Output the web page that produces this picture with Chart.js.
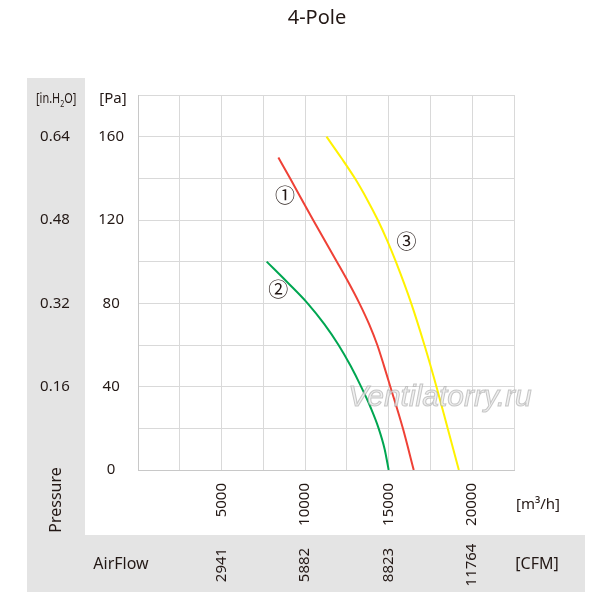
<!DOCTYPE html>
<html>
<head>
<meta charset="utf-8">
<script src="https://cdn.jsdelivr.net/npm/chart.js@4/dist/chart.umd.min.js"></script>
<style>
  body { margin: 0; background: #fff; }
  #wrap { width: 600px; height: 600px; position: relative; }
</style>
</head>
<body>
<div id="wrap"><canvas id="fanChart"></canvas></div>
<script>
// Curve data: [m3/h, Pa]
const curve1 = [[8400,150],[9100,140],[10480,120],[11900,100],[12600,90],[13250,80],[13830,70],[14320,60],[14720,50],[15100,40],[15850,20],[16500,0]];
const curve2 = [[7700,100],[8950,90],[10150,80],[11150,70],[12000,60],[12720,50],[13350,40],[13920,30],[14400,20],[14760,10],[15000,0]];
const curve3 = [[11280,160],[12150,150],[12980,140],[13700,130],[14350,120],[14920,110],[15430,100],[16350,80],[17140,60],[17860,40],[18530,20],[19200,0]];

// Tick labels
const flowTicks = [5000, 10000, 15000, 20000];       // m3/h
const cfmTicks = ['2941', '5882', '8823', '11764'];   // CFM, same positions
const paTicks = [0, 40, 80, 120, 160];                // Pa
const inH2OTicks = ['', '0.16', '0.32', '0.48', '0.64']; // in.H2O, same positions

// Curve markers [m3/h, Pa]
const curveNames = ['\u2460', '\u2461', '\u2462'];
const curveMarks = [[8800,131],[8400,86],[16060,109]];

const FONT = '"Noto Sans", "Noto Sans CJK JP", sans-serif';
const INK = '#231815';
const BAND = '#e4e4e4';

function toXY(arr) {
    return arr.map(p => ({ x: p[0], y: p[1] }));
}

const extras = {
    id: 'extras',
    beforeDraw(chart) {
        const ctx = chart.ctx;
        ctx.save();
        ctx.fillStyle = '#fff';
        ctx.fillRect(0, 0, chart.width, chart.height);
        ctx.fillStyle = BAND;
        ctx.fillRect(27, 78, 58, 514);
        ctx.fillRect(27, 535, 558, 57);
        ctx.restore();
    },
    afterDraw(chart) {
        const ctx = chart.ctx;
        const xs = chart.scales.x;
        const ys = chart.scales.y;
        ctx.save();
        ctx.fillStyle = INK;

        // title
        ctx.font = '20px ' + FONT;
        ctx.textAlign = 'center';
        ctx.textBaseline = 'middle';
        ctx.fillText('4-Pole', 317, 18);

        // unit labels of the pressure axis
        ctx.font = '15px ' + FONT;
        ctx.fillText('[Pa]', 113, 99);

        ctx.save();
        ctx.translate(36, 99);
        ctx.scale(0.78, 1);
        ctx.textAlign = 'left';
        ctx.font = '14px ' + FONT;
        ctx.fillText('[in.H', 0, 0);
        let w = ctx.measureText('[in.H').width;
        ctx.font = '9px ' + FONT;
        ctx.fillText('2', w, 5);
        w += ctx.measureText('2').width;
        ctx.font = '14px ' + FONT;
        ctx.fillText('O]', w, 0);
        ctx.restore();

        // in.H2O tick labels
        ctx.font = '15px ' + FONT;
        ctx.textAlign = 'center';
        paTicks.forEach((v, i) => {
            if (inH2OTicks[i]) ctx.fillText(inH2OTicks[i], 55, ys.getPixelForValue(v));
        });

        // Pressure
        ctx.save();
        ctx.translate(56, 500);
        ctx.rotate(-Math.PI / 2);
        ctx.font = '16px ' + FONT;
        ctx.fillText('Pressure', 0, 0);
        ctx.restore();

        // flow units
        ctx.font = '15px ' + FONT;
        ctx.fillText('[m\u00b3/h]', 538, 505);
        ctx.font = '16px ' + FONT;
        ctx.fillText('AirFlow', 121, 564);
        ctx.fillText('[CFM]', 537, 564);

        // CFM tick labels
        ctx.font = '15px ' + FONT;
        flowTicks.forEach((v, i) => {
            ctx.save();
            ctx.translate(xs.getPixelForValue(v), 565);
            ctx.rotate(-Math.PI / 2);
            ctx.fillText(cfmTicks[i], 0, 0);
            ctx.restore();
        });

        // curve markers
        ctx.font = '20px ' + FONT;
        curveMarks.forEach((m, i) => {
            ctx.fillText(curveNames[i], xs.getPixelForValue(m[0]), ys.getPixelForValue(m[1]));
        });

        // watermark
        ctx.font = 'italic 30px "Liberation Sans", sans-serif';
        ctx.lineWidth = 1;
        ctx.strokeStyle = 'rgba(165,165,165,0.6)';
        ctx.fillStyle = 'rgba(235,235,235,0.75)';
        ctx.fillText('Ventilatorry.ru', 440, 398);
        ctx.strokeText('Ventilatorry.ru', 440, 398);
        ctx.restore();
    }
};

const ctx = document.getElementById('fanChart').getContext('2d');

const fanChart = new Chart(ctx, {
    type: 'line',
    data: {
        datasets: [
            { data: toXY(curve1), borderColor: '#ef4136' },
            { data: toXY(curve2), borderColor: '#00a651' },
            { data: toXY(curve3), borderColor: '#fff200' }
        ]
    },
    options: {
        responsive: true,
        maintainAspectRatio: false,
        animation: false,
        layout: { padding: { left: 0, top: 95, right: 86, bottom: 0 } },
        elements: {
            point: { radius: 0 },
            line: { borderWidth: 2, cubicInterpolationMode: 'monotone', fill: false }
        },
        plugins: {
            legend: { display: false },
            tooltip: { enabled: false }
        },
        scales: {
            x: {
                type: 'linear',
                min: 0,
                max: 22500,
                afterFit(scale) { scale.height = 130; },
                grid: { color: '#d9d9d9', drawTicks: false },
                border: { color: '#c8c8c8' },
                ticks: {
                    stepSize: 2500,
                    autoSkip: false,
                    minRotation: 90,
                    maxRotation: 90,
                    padding: 13,
                    color: INK,
                    font: { family: FONT, size: 15 },
                    callback: v => flowTicks.includes(v) ? String(v) : ''
                }
            },
            y: {
                min: 0,
                max: 180,
                afterFit(scale) { scale.width = 138; },
                grid: { color: '#d9d9d9', drawTicks: false },
                border: { color: '#c8c8c8' },
                ticks: {
                    stepSize: 20,
                    autoSkip: false,
                    padding: 14,
                    crossAlign: 'center',
                    color: INK,
                    font: { family: FONT, size: 15 },
                    callback: v => paTicks.includes(v) ? String(v) : ''
                }
            }
        }
    },
    plugins: [extras]
});
</script>
</body>
</html>
